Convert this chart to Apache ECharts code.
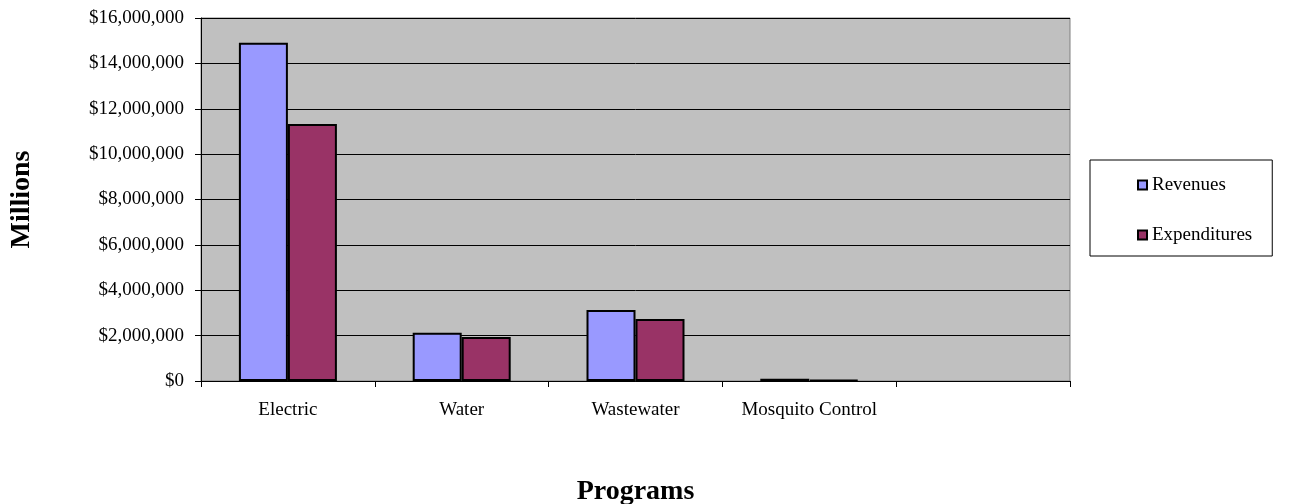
<!DOCTYPE html>
<html>
<head>
<meta charset="utf-8">
<script src="https://cdn.jsdelivr.net/npm/echarts@6/dist/echarts.min.js"></script>
<style>
  html, body { margin: 0; padding: 0; background: #fff; }
  #chart { width: 1306px; height: 504px; }
</style>
</head>
<body>
<div id="chart"></div>
<script>
const categories = ['Electric', 'Water', 'Wastewater', 'Mosquito Control', ''];
const revenues = [14910000, 2130000, 3130000, 100000, null];
const expenditures = [11330000, 1940000, 2730000, 50000, null];
const yTicks = { min: 0, max: 16000000, interval: 2000000 };

const serif = '"Liberation Serif", "DejaVu Serif", serif';
const chart = echarts.init(document.getElementById('chart'));

const money = (v) => '$' + v.toLocaleString('en-US');

chart.setOption({
  animation: false,
  textStyle: { fontFamily: serif },
  grid: {
    left: 201, right: 236, top: 18, bottom: 123,
    outerBoundsMode: 'none',
    show: true,
    backgroundColor: '#c0c0c0',
    borderColor: '#808080',
    borderWidth: 1,
  },
  legend: {
    orient: 'vertical',
    left: 1090,
    top: 160,
    padding: [15, 20, 11, 47],
    itemGap: 30,
    itemWidth: 9,
    itemHeight: 9,
    icon: 'rect',
    itemStyle: { borderColor: '#000', borderWidth: 2 },
    borderColor: '#000',
    borderWidth: 1,
    backgroundColor: '#fff',
    textStyle: { fontFamily: serif, fontSize: 19, color: '#000', padding: [0, 0, 0, 0], lineHeight: 20 },
    data: ['Revenues', 'Expenditures'],
  },
  xAxis: {
    type: 'category',
    data: categories,
    name: 'Programs',
    nameLocation: 'middle',
    nameGap: 97,
    nameTextStyle: { fontFamily: serif, fontSize: 28, fontWeight: 'bold', color: '#000' },
    axisLine: { lineStyle: { color: '#000', width: 1 } },
    axisTick: { show: true, interval: 0, length: 6, lineStyle: { color: '#000' } },
    axisLabel: { interval: 0, color: '#000', fontSize: 19, fontFamily: serif, margin: 20 },
  },
  yAxis: {
    type: 'value',
    min: yTicks.min,
    max: yTicks.max,
    interval: yTicks.interval,
    name: 'Millions',
    nameLocation: 'middle',
    nameGap: 165,
    nameRotate: 90,
    nameTextStyle: { fontFamily: serif, fontSize: 28, fontWeight: 'bold', color: '#000' },
    axisLine: { show: true, lineStyle: { color: '#000', width: 1 } },
    axisTick: { show: true, length: 6, lineStyle: { color: '#000' } },
    axisLabel: { color: '#000', fontSize: 19, fontFamily: serif, margin: 17, formatter: money },
    splitLine: { show: true, lineStyle: { color: '#000', width: 1 } },
  },
  series: [
    {
      name: 'Revenues',
      type: 'bar',
      data: revenues,
      barWidth: 49,
      barGap: '0%',
      itemStyle: { color: '#9999ff', borderColor: '#000', borderWidth: 2 },
    },
    {
      name: 'Expenditures',
      type: 'bar',
      data: expenditures,
      barWidth: 49,
      barGap: '0%',
      itemStyle: { color: '#993366', borderColor: '#000', borderWidth: 2 },
    },
  ],
});
</script>
</body>
</html>
